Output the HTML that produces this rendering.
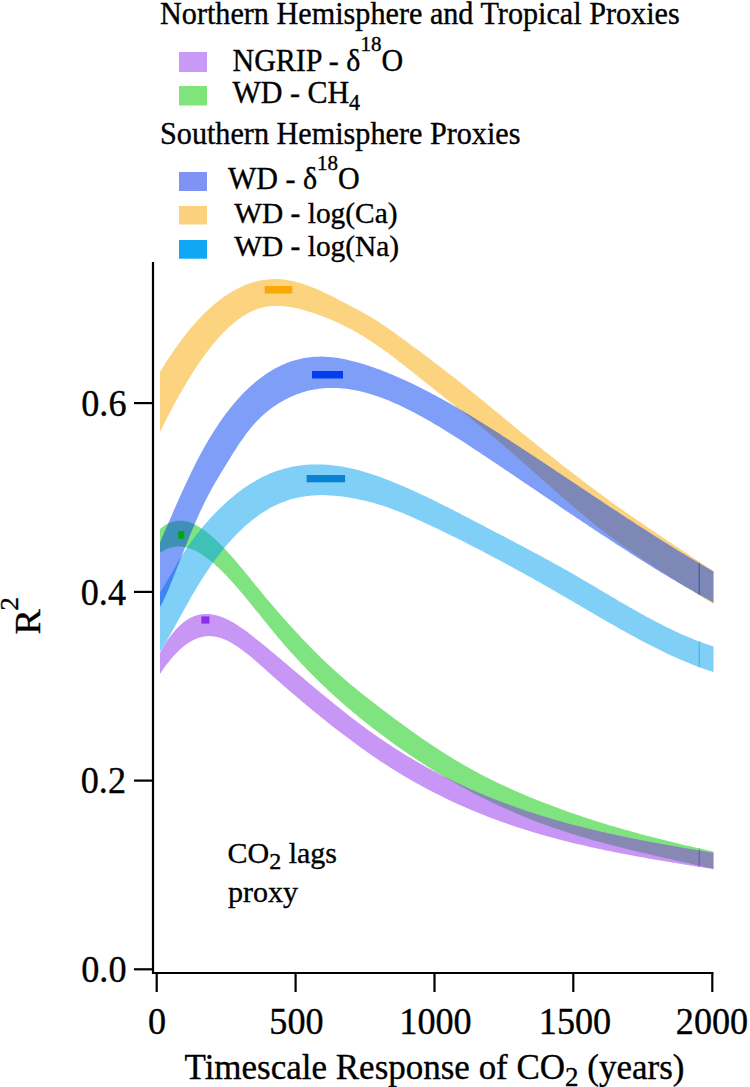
<!DOCTYPE html>
<html><head><meta charset="utf-8"><style>
html,body{margin:0;padding:0;background:#fff;width:750px;height:1087px;overflow:hidden;position:relative;font-family:"Liberation Serif",serif;}
</style></head><body>
<svg width="750" height="1087" viewBox="0 0 750 1087" style="position:absolute;left:0;top:0">
<rect width="750" height="1087" fill="#fff"/>
<path d="M160.0,372.0 L162.0,368.7 L164.0,365.5 L166.0,362.3 L168.0,359.2 L170.0,356.2 L172.0,353.2 L174.0,350.3 L176.0,347.4 L178.0,344.6 L180.0,341.9 L182.0,339.2 L184.0,336.6 L186.0,334.0 L188.0,331.5 L190.0,329.1 L192.0,326.7 L194.0,324.4 L196.0,322.2 L198.0,320.0 L200.0,317.9 L202.0,315.8 L204.0,313.8 L206.0,311.8 L208.0,309.9 L210.0,308.1 L212.0,306.3 L214.0,304.6 L216.0,302.9 L218.0,301.3 L220.0,299.7 L222.0,298.2 L224.0,296.8 L226.0,295.4 L228.0,294.1 L230.0,292.9 L232.0,291.6 L234.0,290.5 L236.0,289.4 L238.0,288.4 L240.0,287.4 L242.0,286.5 L244.0,285.6 L246.0,284.8 L248.0,284.0 L250.0,283.3 L252.0,282.7 L254.0,282.1 L256.0,281.5 L258.0,281.0 L260.0,280.6 L262.0,280.2 L264.0,279.9 L266.0,279.7 L268.0,279.4 L270.0,279.3 L272.0,279.2 L274.0,279.1 L276.0,279.1 L278.0,279.2 L280.0,279.3 L282.0,279.4 L284.0,279.6 L286.0,279.9 L288.0,280.2 L290.0,280.6 L292.0,281.0 L294.0,281.4 L296.0,281.9 L298.0,282.5 L300.0,283.0 L302.0,283.6 L304.0,284.3 L306.0,285.0 L308.0,285.7 L310.0,286.4 L312.0,287.2 L314.0,288.0 L316.0,288.8 L318.0,289.7 L320.0,290.6 L322.0,291.5 L324.0,292.4 L326.0,293.4 L328.0,294.3 L330.0,295.3 L332.0,296.3 L334.0,297.3 L336.0,298.3 L338.0,299.4 L340.0,300.4 L342.0,301.4 L344.0,302.5 L346.0,303.5 L348.0,304.6 L350.0,305.7 L352.0,306.7 L354.0,307.8 L356.0,308.8 L358.0,309.9 L360.0,311.0 L362.0,312.1 L364.0,313.2 L366.0,314.3 L368.0,315.5 L370.0,316.6 L372.0,317.8 L374.0,319.0 L376.0,320.3 L378.0,321.6 L380.0,322.8 L382.0,324.2 L384.0,325.5 L386.0,326.9 L388.0,328.3 L390.0,329.7 L392.0,331.1 L394.0,332.5 L396.0,333.9 L398.0,335.4 L400.0,336.9 L402.0,338.3 L404.0,339.8 L406.0,341.3 L408.0,342.7 L410.0,344.2 L412.0,345.7 L414.0,347.2 L416.0,348.7 L418.0,350.1 L420.0,351.6 L422.0,353.1 L424.0,354.6 L426.0,356.1 L428.0,357.6 L430.0,359.1 L432.0,360.7 L434.0,362.2 L436.0,363.7 L438.0,365.2 L440.0,366.7 L442.0,368.3 L444.0,369.8 L446.0,371.4 L448.0,372.9 L450.0,374.5 L452.0,376.0 L454.0,377.6 L456.0,379.1 L458.0,380.7 L460.0,382.3 L462.0,383.9 L464.0,385.5 L466.0,387.1 L468.0,388.7 L470.0,390.3 L472.0,391.9 L474.0,393.5 L476.0,395.1 L478.0,396.7 L480.0,398.4 L482.0,400.0 L484.0,401.6 L486.0,403.3 L488.0,404.9 L490.0,406.6 L492.0,408.2 L494.0,409.9 L496.0,411.5 L498.0,413.2 L500.0,414.8 L502.0,416.5 L504.0,418.1 L506.0,419.8 L508.0,421.4 L510.0,423.0 L512.0,424.7 L514.0,426.3 L516.0,428.0 L518.0,429.6 L520.0,431.3 L522.0,432.9 L524.0,434.5 L526.0,436.2 L528.0,437.8 L530.0,439.4 L532.0,441.0 L534.0,442.6 L536.0,444.2 L538.0,445.9 L540.0,447.5 L542.0,449.1 L544.0,450.7 L546.0,452.3 L548.0,453.8 L550.0,455.4 L552.0,457.0 L554.0,458.6 L556.0,460.2 L558.0,461.7 L560.0,463.3 L562.0,464.9 L564.0,466.4 L566.0,468.0 L568.0,469.5 L570.0,471.1 L572.0,472.6 L574.0,474.2 L576.0,475.7 L578.0,477.2 L580.0,478.7 L582.0,480.3 L584.0,481.8 L586.0,483.3 L588.0,484.8 L590.0,486.3 L592.0,487.8 L594.0,489.3 L596.0,490.8 L598.0,492.2 L600.0,493.7 L602.0,495.2 L604.0,496.6 L606.0,498.1 L608.0,499.6 L610.0,501.0 L612.0,502.4 L614.0,503.9 L616.0,505.3 L618.0,506.7 L620.0,508.2 L622.0,509.6 L624.0,511.0 L626.0,512.4 L628.0,513.8 L630.0,515.2 L632.0,516.6 L634.0,518.0 L636.0,519.3 L638.0,520.7 L640.0,522.1 L642.0,523.5 L644.0,524.8 L646.0,526.2 L648.0,527.5 L650.0,528.9 L652.0,530.2 L654.0,531.6 L656.0,532.9 L658.0,534.3 L660.0,535.6 L662.0,536.9 L664.0,538.3 L666.0,539.6 L668.0,540.9 L670.0,542.3 L672.0,543.6 L674.0,544.9 L676.0,546.3 L678.0,547.6 L680.0,548.9 L682.0,550.2 L684.0,551.6 L686.0,552.9 L688.0,554.2 L690.0,555.5 L692.0,556.9 L694.0,558.2 L696.0,559.5 L698.0,560.8 L700.0,562.2 L702.0,563.5 L704.0,564.8 L706.0,566.2 L708.0,567.5 L710.0,568.8 L712.0,570.2 L713.5,571.2 L713.5,604.0 L712.0,603.0 L710.0,601.8 L708.0,600.5 L706.0,599.3 L704.0,598.0 L702.0,596.8 L700.0,595.5 L698.0,594.3 L696.0,593.1 L694.0,591.8 L692.0,590.6 L690.0,589.3 L688.0,588.1 L686.0,586.9 L684.0,585.6 L682.0,584.4 L680.0,583.1 L678.0,581.9 L676.0,580.7 L674.0,579.4 L672.0,578.2 L670.0,576.9 L668.0,575.6 L666.0,574.4 L664.0,573.1 L662.0,571.8 L660.0,570.6 L658.0,569.3 L656.0,568.0 L654.0,566.7 L652.0,565.4 L650.0,564.1 L648.0,562.8 L646.0,561.5 L644.0,560.2 L642.0,558.9 L640.0,557.5 L638.0,556.2 L636.0,554.8 L634.0,553.5 L632.0,552.1 L630.0,550.7 L628.0,549.3 L626.0,547.9 L624.0,546.5 L622.0,545.1 L620.0,543.7 L618.0,542.2 L616.0,540.8 L614.0,539.3 L612.0,537.8 L610.0,536.3 L608.0,534.8 L606.0,533.3 L604.0,531.8 L602.0,530.2 L600.0,528.7 L598.0,527.1 L596.0,525.5 L594.0,523.9 L592.0,522.3 L590.0,520.7 L588.0,519.0 L586.0,517.4 L584.0,515.7 L582.0,514.1 L580.0,512.4 L578.0,510.7 L576.0,509.0 L574.0,507.3 L572.0,505.6 L570.0,503.9 L568.0,502.1 L566.0,500.4 L564.0,498.7 L562.0,496.9 L560.0,495.2 L558.0,493.4 L556.0,491.6 L554.0,489.9 L552.0,488.1 L550.0,486.3 L548.0,484.5 L546.0,482.8 L544.0,481.0 L542.0,479.2 L540.0,477.4 L538.0,475.6 L536.0,473.9 L534.0,472.1 L532.0,470.3 L530.0,468.5 L528.0,466.8 L526.0,465.0 L524.0,463.2 L522.0,461.5 L520.0,459.7 L518.0,457.9 L516.0,456.2 L514.0,454.5 L512.0,452.7 L510.0,451.0 L508.0,449.3 L506.0,447.5 L504.0,445.8 L502.0,444.1 L500.0,442.4 L498.0,440.8 L496.0,439.1 L494.0,437.4 L492.0,435.7 L490.0,434.1 L488.0,432.4 L486.0,430.8 L484.0,429.2 L482.0,427.5 L480.0,425.9 L478.0,424.3 L476.0,422.7 L474.0,421.1 L472.0,419.4 L470.0,417.8 L468.0,416.2 L466.0,414.6 L464.0,413.0 L462.0,411.4 L460.0,409.9 L458.0,408.3 L456.0,406.7 L454.0,405.1 L452.0,403.5 L450.0,401.9 L448.0,400.3 L446.0,398.7 L444.0,397.2 L442.0,395.6 L440.0,394.0 L438.0,392.4 L436.0,390.8 L434.0,389.2 L432.0,387.6 L430.0,386.0 L428.0,384.4 L426.0,382.8 L424.0,381.2 L422.0,379.6 L420.0,378.0 L418.0,376.4 L416.0,374.8 L414.0,373.2 L412.0,371.6 L410.0,370.0 L408.0,368.4 L406.0,366.9 L404.0,365.3 L402.0,363.7 L400.0,362.2 L398.0,360.7 L396.0,359.1 L394.0,357.6 L392.0,356.1 L390.0,354.6 L388.0,353.1 L386.0,351.7 L384.0,350.2 L382.0,348.8 L380.0,347.4 L378.0,346.0 L376.0,344.6 L374.0,343.2 L372.0,341.9 L370.0,340.6 L368.0,339.3 L366.0,338.0 L364.0,336.8 L362.0,335.6 L360.0,334.4 L358.0,333.2 L356.0,332.1 L354.0,330.9 L352.0,329.8 L350.0,328.8 L348.0,327.7 L346.0,326.7 L344.0,325.7 L342.0,324.7 L340.0,323.7 L338.0,322.8 L336.0,321.9 L334.0,321.0 L332.0,320.1 L330.0,319.3 L328.0,318.5 L326.0,317.7 L324.0,316.9 L322.0,316.1 L320.0,315.4 L318.0,314.7 L316.0,314.0 L314.0,313.3 L312.0,312.6 L310.0,312.0 L308.0,311.4 L306.0,310.8 L304.0,310.2 L302.0,309.7 L300.0,309.1 L298.0,308.6 L296.0,308.2 L294.0,307.7 L292.0,307.3 L290.0,307.0 L288.0,306.7 L286.0,306.4 L284.0,306.2 L282.0,306.0 L280.0,305.9 L278.0,305.9 L276.0,305.9 L274.0,305.9 L272.0,306.0 L270.0,306.2 L268.0,306.5 L266.0,306.8 L264.0,307.2 L262.0,307.6 L260.0,308.2 L258.0,308.8 L256.0,309.5 L254.0,310.3 L252.0,311.2 L250.0,312.1 L248.0,313.2 L246.0,314.3 L244.0,315.5 L242.0,316.8 L240.0,318.2 L238.0,319.6 L236.0,321.2 L234.0,322.8 L232.0,324.5 L230.0,326.2 L228.0,328.1 L226.0,330.0 L224.0,332.0 L222.0,334.1 L220.0,336.2 L218.0,338.5 L216.0,340.7 L214.0,343.1 L212.0,345.6 L210.0,348.1 L208.0,350.7 L206.0,353.3 L204.0,356.0 L202.0,358.8 L200.0,361.7 L198.0,364.6 L196.0,367.6 L194.0,370.7 L192.0,373.8 L190.0,377.0 L188.0,380.2 L186.0,383.5 L184.0,386.9 L182.0,390.4 L180.0,393.9 L178.0,397.4 L176.0,401.0 L174.0,404.7 L172.0,408.5 L170.0,412.2 L168.0,416.1 L166.0,420.0 L164.0,424.0 L162.0,428.0 L160.0,432.1 Z" fill="rgb(250,168,0)" fill-opacity="0.5"/><rect x="698.6" y="561.6" width="1.3" height="33.4" fill="rgb(250,168,0)" fill-opacity="0.5"/><path d="M160.0,529.0 L162.0,527.4 L164.0,525.9 L166.0,524.6 L168.0,523.6 L170.0,522.7 L172.0,521.9 L174.0,521.4 L176.0,521.0 L178.0,520.8 L180.0,520.7 L182.0,520.8 L184.0,521.0 L186.0,521.4 L188.0,521.8 L190.0,522.5 L192.0,523.2 L194.0,524.1 L196.0,525.1 L198.0,526.2 L200.0,527.4 L202.0,528.7 L204.0,530.1 L206.0,531.5 L208.0,533.1 L210.0,534.7 L212.0,536.5 L214.0,538.3 L216.0,540.1 L218.0,542.0 L220.0,544.0 L222.0,546.0 L224.0,548.1 L226.0,550.2 L228.0,552.4 L230.0,554.6 L232.0,556.9 L234.0,559.1 L236.0,561.5 L238.0,563.8 L240.0,566.2 L242.0,568.6 L244.0,571.0 L246.0,573.4 L248.0,575.8 L250.0,578.3 L252.0,580.7 L254.0,583.2 L256.0,585.7 L258.0,588.1 L260.0,590.6 L262.0,593.0 L264.0,595.4 L266.0,597.9 L268.0,600.3 L270.0,602.6 L272.0,605.0 L274.0,607.3 L276.0,609.6 L278.0,611.9 L280.0,614.2 L282.0,616.5 L284.0,618.7 L286.0,621.0 L288.0,623.2 L290.0,625.4 L292.0,627.6 L294.0,629.8 L296.0,631.9 L298.0,634.1 L300.0,636.2 L302.0,638.4 L304.0,640.5 L306.0,642.6 L308.0,644.6 L310.0,646.7 L312.0,648.7 L314.0,650.8 L316.0,652.8 L318.0,654.7 L320.0,656.7 L322.0,658.7 L324.0,660.6 L326.0,662.5 L328.0,664.4 L330.0,666.3 L332.0,668.1 L334.0,669.9 L336.0,671.7 L338.0,673.5 L340.0,675.3 L342.0,677.0 L344.0,678.8 L346.0,680.5 L348.0,682.2 L350.0,683.9 L352.0,685.5 L354.0,687.2 L356.0,688.8 L358.0,690.4 L360.0,692.1 L362.0,693.7 L364.0,695.3 L366.0,696.8 L368.0,698.4 L370.0,700.0 L372.0,701.5 L374.0,703.1 L376.0,704.6 L378.0,706.2 L380.0,707.7 L382.0,709.2 L384.0,710.7 L386.0,712.2 L388.0,713.7 L390.0,715.3 L392.0,716.8 L394.0,718.2 L396.0,719.7 L398.0,721.2 L400.0,722.7 L402.0,724.1 L404.0,725.6 L406.0,727.1 L408.0,728.5 L410.0,729.9 L412.0,731.4 L414.0,732.8 L416.0,734.2 L418.0,735.6 L420.0,737.0 L422.0,738.4 L424.0,739.8 L426.0,741.1 L428.0,742.5 L430.0,743.8 L432.0,745.2 L434.0,746.5 L436.0,747.8 L438.0,749.1 L440.0,750.4 L442.0,751.7 L444.0,753.0 L446.0,754.2 L448.0,755.5 L450.0,756.7 L452.0,758.0 L454.0,759.2 L456.0,760.4 L458.0,761.6 L460.0,762.8 L462.0,763.9 L464.0,765.1 L466.0,766.2 L468.0,767.3 L470.0,768.5 L472.0,769.6 L474.0,770.7 L476.0,771.7 L478.0,772.8 L480.0,773.9 L482.0,774.9 L484.0,776.0 L486.0,777.0 L488.0,778.0 L490.0,779.0 L492.0,780.0 L494.0,781.0 L496.0,782.0 L498.0,782.9 L500.0,783.9 L502.0,784.8 L504.0,785.8 L506.0,786.7 L508.0,787.6 L510.0,788.5 L512.0,789.4 L514.0,790.3 L516.0,791.2 L518.0,792.1 L520.0,792.9 L522.0,793.8 L524.0,794.6 L526.0,795.5 L528.0,796.3 L530.0,797.2 L532.0,798.0 L534.0,798.8 L536.0,799.6 L538.0,800.4 L540.0,801.2 L542.0,802.0 L544.0,802.8 L546.0,803.5 L548.0,804.3 L550.0,805.1 L552.0,805.8 L554.0,806.6 L556.0,807.3 L558.0,808.1 L560.0,808.8 L562.0,809.5 L564.0,810.2 L566.0,811.0 L568.0,811.7 L570.0,812.4 L572.0,813.1 L574.0,813.8 L576.0,814.5 L578.0,815.1 L580.0,815.8 L582.0,816.5 L584.0,817.2 L586.0,817.8 L588.0,818.5 L590.0,819.1 L592.0,819.8 L594.0,820.4 L596.0,821.0 L598.0,821.7 L600.0,822.3 L602.0,822.9 L604.0,823.5 L606.0,824.2 L608.0,824.8 L610.0,825.4 L612.0,826.0 L614.0,826.6 L616.0,827.1 L618.0,827.7 L620.0,828.3 L622.0,828.9 L624.0,829.5 L626.0,830.0 L628.0,830.6 L630.0,831.1 L632.0,831.7 L634.0,832.2 L636.0,832.8 L638.0,833.3 L640.0,833.9 L642.0,834.4 L644.0,834.9 L646.0,835.5 L648.0,836.0 L650.0,836.5 L652.0,837.0 L654.0,837.6 L656.0,838.1 L658.0,838.6 L660.0,839.1 L662.0,839.6 L664.0,840.1 L666.0,840.6 L668.0,841.1 L670.0,841.6 L672.0,842.0 L674.0,842.5 L676.0,843.0 L678.0,843.5 L680.0,844.0 L682.0,844.4 L684.0,844.9 L686.0,845.4 L688.0,845.8 L690.0,846.3 L692.0,846.8 L694.0,847.2 L696.0,847.7 L698.0,848.1 L700.0,848.6 L702.0,849.0 L704.0,849.5 L706.0,849.9 L708.0,850.4 L710.0,850.8 L712.0,851.2 L713.5,851.6 L713.5,868.9 L712.0,868.6 L710.0,868.1 L708.0,867.7 L706.0,867.2 L704.0,866.8 L702.0,866.3 L700.0,865.8 L698.0,865.4 L696.0,864.9 L694.0,864.5 L692.0,864.0 L690.0,863.6 L688.0,863.1 L686.0,862.7 L684.0,862.2 L682.0,861.8 L680.0,861.4 L678.0,860.9 L676.0,860.5 L674.0,860.0 L672.0,859.6 L670.0,859.1 L668.0,858.7 L666.0,858.2 L664.0,857.8 L662.0,857.3 L660.0,856.9 L658.0,856.4 L656.0,855.9 L654.0,855.5 L652.0,855.0 L650.0,854.6 L648.0,854.1 L646.0,853.6 L644.0,853.2 L642.0,852.7 L640.0,852.2 L638.0,851.7 L636.0,851.3 L634.0,850.8 L632.0,850.3 L630.0,849.8 L628.0,849.3 L626.0,848.8 L624.0,848.3 L622.0,847.8 L620.0,847.3 L618.0,846.8 L616.0,846.3 L614.0,845.8 L612.0,845.3 L610.0,844.8 L608.0,844.3 L606.0,843.7 L604.0,843.2 L602.0,842.6 L600.0,842.1 L598.0,841.6 L596.0,841.0 L594.0,840.4 L592.0,839.9 L590.0,839.3 L588.0,838.7 L586.0,838.1 L584.0,837.6 L582.0,837.0 L580.0,836.4 L578.0,835.8 L576.0,835.1 L574.0,834.5 L572.0,833.9 L570.0,833.3 L568.0,832.6 L566.0,832.0 L564.0,831.3 L562.0,830.7 L560.0,830.0 L558.0,829.3 L556.0,828.7 L554.0,828.0 L552.0,827.3 L550.0,826.6 L548.0,825.9 L546.0,825.1 L544.0,824.4 L542.0,823.7 L540.0,822.9 L538.0,822.2 L536.0,821.4 L534.0,820.6 L532.0,819.9 L530.0,819.1 L528.0,818.3 L526.0,817.5 L524.0,816.7 L522.0,815.8 L520.0,815.0 L518.0,814.2 L516.0,813.3 L514.0,812.5 L512.0,811.6 L510.0,810.7 L508.0,809.8 L506.0,808.9 L504.0,808.0 L502.0,807.1 L500.0,806.2 L498.0,805.3 L496.0,804.3 L494.0,803.4 L492.0,802.4 L490.0,801.5 L488.0,800.5 L486.0,799.5 L484.0,798.5 L482.0,797.5 L480.0,796.5 L478.0,795.5 L476.0,794.5 L474.0,793.4 L472.0,792.4 L470.0,791.3 L468.0,790.2 L466.0,789.2 L464.0,788.1 L462.0,787.0 L460.0,785.9 L458.0,784.8 L456.0,783.6 L454.0,782.5 L452.0,781.4 L450.0,780.2 L448.0,779.0 L446.0,777.9 L444.0,776.7 L442.0,775.5 L440.0,774.3 L438.0,773.1 L436.0,771.9 L434.0,770.6 L432.0,769.4 L430.0,768.1 L428.0,766.9 L426.0,765.6 L424.0,764.3 L422.0,763.0 L420.0,761.7 L418.0,760.4 L416.0,759.1 L414.0,757.8 L412.0,756.4 L410.0,755.1 L408.0,753.7 L406.0,752.3 L404.0,751.0 L402.0,749.6 L400.0,748.2 L398.0,746.8 L396.0,745.3 L394.0,743.9 L392.0,742.5 L390.0,741.0 L388.0,739.5 L386.0,738.1 L384.0,736.6 L382.0,735.1 L380.0,733.6 L378.0,732.1 L376.0,730.5 L374.0,729.0 L372.0,727.4 L370.0,725.9 L368.0,724.3 L366.0,722.7 L364.0,721.1 L362.0,719.5 L360.0,717.9 L358.0,716.3 L356.0,714.6 L354.0,713.0 L352.0,711.3 L350.0,709.6 L348.0,707.9 L346.0,706.2 L344.0,704.4 L342.0,702.7 L340.0,700.9 L338.0,699.1 L336.0,697.4 L334.0,695.5 L332.0,693.7 L330.0,691.9 L328.0,690.0 L326.0,688.1 L324.0,686.2 L322.0,684.3 L320.0,682.4 L318.0,680.5 L316.0,678.5 L314.0,676.5 L312.0,674.5 L310.0,672.5 L308.0,670.4 L306.0,668.4 L304.0,666.3 L302.0,664.2 L300.0,662.1 L298.0,659.9 L296.0,657.8 L294.0,655.6 L292.0,653.4 L290.0,651.2 L288.0,648.9 L286.0,646.7 L284.0,644.4 L282.0,642.1 L280.0,639.7 L278.0,637.4 L276.0,635.0 L274.0,632.6 L272.0,630.1 L270.0,627.7 L268.0,625.2 L266.0,622.8 L264.0,620.3 L262.0,617.8 L260.0,615.3 L258.0,612.8 L256.0,610.4 L254.0,607.9 L252.0,605.4 L250.0,602.9 L248.0,600.5 L246.0,598.1 L244.0,595.6 L242.0,593.3 L240.0,590.9 L238.0,588.6 L236.0,586.2 L234.0,584.0 L232.0,581.7 L230.0,579.5 L228.0,577.4 L226.0,575.3 L224.0,573.2 L222.0,571.2 L220.0,569.2 L218.0,567.3 L216.0,565.5 L214.0,563.7 L212.0,562.0 L210.0,560.4 L208.0,558.8 L206.0,557.3 L204.0,555.9 L202.0,554.5 L200.0,553.3 L198.0,552.1 L196.0,551.1 L194.0,550.1 L192.0,549.3 L190.0,548.5 L188.0,547.9 L186.0,547.4 L184.0,547.0 L182.0,546.7 L180.0,546.6 L178.0,546.5 L176.0,546.7 L174.0,546.9 L172.0,547.3 L170.0,547.8 L168.0,548.5 L166.0,549.4 L164.0,550.4 L162.0,551.5 L160.0,552.8 Z" fill="rgb(0,200,0)" fill-opacity="0.5"/><rect x="698.6" y="848.4" width="1.3" height="17.3" fill="rgb(0,200,0)" fill-opacity="0.5"/><path d="M160.0,652.9 L162.0,649.3 L164.0,645.8 L166.0,642.6 L168.0,639.6 L170.0,636.8 L172.0,634.2 L174.0,631.7 L176.0,629.4 L178.0,627.3 L180.0,625.4 L182.0,623.6 L184.0,622.0 L186.0,620.6 L188.0,619.3 L190.0,618.1 L192.0,617.1 L194.0,616.3 L196.0,615.6 L198.0,615.0 L200.0,614.5 L202.0,614.2 L204.0,614.0 L206.0,613.9 L208.0,614.0 L210.0,614.1 L212.0,614.4 L214.0,614.7 L216.0,615.2 L218.0,615.7 L220.0,616.4 L222.0,617.1 L224.0,617.9 L226.0,618.8 L228.0,619.8 L230.0,620.8 L232.0,621.9 L234.0,623.1 L236.0,624.3 L238.0,625.6 L240.0,626.9 L242.0,628.3 L244.0,629.7 L246.0,631.1 L248.0,632.6 L250.0,634.1 L252.0,635.7 L254.0,637.3 L256.0,638.9 L258.0,640.5 L260.0,642.1 L262.0,643.7 L264.0,645.3 L266.0,647.0 L268.0,648.6 L270.0,650.3 L272.0,651.9 L274.0,653.6 L276.0,655.3 L278.0,656.9 L280.0,658.6 L282.0,660.3 L284.0,662.0 L286.0,663.6 L288.0,665.3 L290.0,667.0 L292.0,668.7 L294.0,670.4 L296.0,672.1 L298.0,673.8 L300.0,675.4 L302.0,677.1 L304.0,678.8 L306.0,680.5 L308.0,682.2 L310.0,683.9 L312.0,685.5 L314.0,687.2 L316.0,688.9 L318.0,690.6 L320.0,692.2 L322.0,693.9 L324.0,695.5 L326.0,697.2 L328.0,698.8 L330.0,700.5 L332.0,702.1 L334.0,703.7 L336.0,705.3 L338.0,706.9 L340.0,708.6 L342.0,710.1 L344.0,711.7 L346.0,713.3 L348.0,714.9 L350.0,716.4 L352.0,718.0 L354.0,719.5 L356.0,721.0 L358.0,722.6 L360.0,724.1 L362.0,725.5 L364.0,727.0 L366.0,728.5 L368.0,729.9 L370.0,731.4 L372.0,732.8 L374.0,734.2 L376.0,735.6 L378.0,737.0 L380.0,738.4 L382.0,739.8 L384.0,741.1 L386.0,742.5 L388.0,743.8 L390.0,745.1 L392.0,746.4 L394.0,747.7 L396.0,749.0 L398.0,750.3 L400.0,751.5 L402.0,752.8 L404.0,754.0 L406.0,755.2 L408.0,756.4 L410.0,757.6 L412.0,758.8 L414.0,760.0 L416.0,761.2 L418.0,762.3 L420.0,763.5 L422.0,764.6 L424.0,765.8 L426.0,766.9 L428.0,768.0 L430.0,769.1 L432.0,770.2 L434.0,771.2 L436.0,772.3 L438.0,773.3 L440.0,774.4 L442.0,775.4 L444.0,776.4 L446.0,777.5 L448.0,778.5 L450.0,779.5 L452.0,780.4 L454.0,781.4 L456.0,782.4 L458.0,783.3 L460.0,784.3 L462.0,785.2 L464.0,786.1 L466.0,787.1 L468.0,788.0 L470.0,788.9 L472.0,789.8 L474.0,790.6 L476.0,791.5 L478.0,792.4 L480.0,793.2 L482.0,794.1 L484.0,794.9 L486.0,795.8 L488.0,796.6 L490.0,797.4 L492.0,798.2 L494.0,799.0 L496.0,799.8 L498.0,800.6 L500.0,801.3 L502.0,802.1 L504.0,802.9 L506.0,803.6 L508.0,804.4 L510.0,805.1 L512.0,805.8 L514.0,806.5 L516.0,807.3 L518.0,808.0 L520.0,808.7 L522.0,809.3 L524.0,810.0 L526.0,810.7 L528.0,811.4 L530.0,812.0 L532.0,812.7 L534.0,813.3 L536.0,814.0 L538.0,814.6 L540.0,815.2 L542.0,815.9 L544.0,816.5 L546.0,817.1 L548.0,817.7 L550.0,818.3 L552.0,818.9 L554.0,819.5 L556.0,820.0 L558.0,820.6 L560.0,821.2 L562.0,821.7 L564.0,822.3 L566.0,822.9 L568.0,823.4 L570.0,823.9 L572.0,824.5 L574.0,825.0 L576.0,825.5 L578.0,826.0 L580.0,826.5 L582.0,827.1 L584.0,827.6 L586.0,828.1 L588.0,828.5 L590.0,829.0 L592.0,829.5 L594.0,830.0 L596.0,830.5 L598.0,830.9 L600.0,831.4 L602.0,831.9 L604.0,832.3 L606.0,832.8 L608.0,833.2 L610.0,833.7 L612.0,834.1 L614.0,834.5 L616.0,835.0 L618.0,835.4 L620.0,835.8 L622.0,836.2 L624.0,836.7 L626.0,837.1 L628.0,837.5 L630.0,837.9 L632.0,838.3 L634.0,838.7 L636.0,839.1 L638.0,839.5 L640.0,839.9 L642.0,840.3 L644.0,840.7 L646.0,841.0 L648.0,841.4 L650.0,841.8 L652.0,842.2 L654.0,842.5 L656.0,842.9 L658.0,843.3 L660.0,843.6 L662.0,844.0 L664.0,844.4 L666.0,844.7 L668.0,845.1 L670.0,845.4 L672.0,845.8 L674.0,846.1 L676.0,846.5 L678.0,846.8 L680.0,847.2 L682.0,847.5 L684.0,847.9 L686.0,848.2 L688.0,848.5 L690.0,848.9 L692.0,849.2 L694.0,849.6 L696.0,849.9 L698.0,850.2 L700.0,850.6 L702.0,850.9 L704.0,851.2 L706.0,851.6 L708.0,851.9 L710.0,852.2 L712.0,852.5 L713.5,852.8 L713.5,869.2 L712.0,868.9 L710.0,868.6 L708.0,868.3 L706.0,868.0 L704.0,867.7 L702.0,867.3 L700.0,867.0 L698.0,866.7 L696.0,866.4 L694.0,866.0 L692.0,865.7 L690.0,865.4 L688.0,865.1 L686.0,864.7 L684.0,864.4 L682.0,864.1 L680.0,863.8 L678.0,863.4 L676.0,863.1 L674.0,862.8 L672.0,862.4 L670.0,862.1 L668.0,861.8 L666.0,861.4 L664.0,861.1 L662.0,860.8 L660.0,860.4 L658.0,860.1 L656.0,859.7 L654.0,859.4 L652.0,859.1 L650.0,858.7 L648.0,858.4 L646.0,858.0 L644.0,857.6 L642.0,857.3 L640.0,856.9 L638.0,856.6 L636.0,856.2 L634.0,855.8 L632.0,855.5 L630.0,855.1 L628.0,854.7 L626.0,854.3 L624.0,853.9 L622.0,853.6 L620.0,853.2 L618.0,852.8 L616.0,852.4 L614.0,852.0 L612.0,851.6 L610.0,851.2 L608.0,850.8 L606.0,850.4 L604.0,849.9 L602.0,849.5 L600.0,849.1 L598.0,848.7 L596.0,848.2 L594.0,847.8 L592.0,847.4 L590.0,846.9 L588.0,846.5 L586.0,846.0 L584.0,845.6 L582.0,845.1 L580.0,844.6 L578.0,844.2 L576.0,843.7 L574.0,843.2 L572.0,842.7 L570.0,842.2 L568.0,841.7 L566.0,841.2 L564.0,840.7 L562.0,840.2 L560.0,839.7 L558.0,839.2 L556.0,838.6 L554.0,838.1 L552.0,837.5 L550.0,837.0 L548.0,836.4 L546.0,835.9 L544.0,835.3 L542.0,834.8 L540.0,834.2 L538.0,833.6 L536.0,833.0 L534.0,832.4 L532.0,831.8 L530.0,831.2 L528.0,830.6 L526.0,829.9 L524.0,829.3 L522.0,828.7 L520.0,828.0 L518.0,827.4 L516.0,826.7 L514.0,826.1 L512.0,825.4 L510.0,824.7 L508.0,824.0 L506.0,823.3 L504.0,822.6 L502.0,821.9 L500.0,821.2 L498.0,820.5 L496.0,819.7 L494.0,819.0 L492.0,818.2 L490.0,817.5 L488.0,816.7 L486.0,815.9 L484.0,815.1 L482.0,814.4 L480.0,813.6 L478.0,812.7 L476.0,811.9 L474.0,811.1 L472.0,810.3 L470.0,809.4 L468.0,808.6 L466.0,807.7 L464.0,806.8 L462.0,805.9 L460.0,805.1 L458.0,804.2 L456.0,803.2 L454.0,802.3 L452.0,801.4 L450.0,800.5 L448.0,799.5 L446.0,798.5 L444.0,797.6 L442.0,796.6 L440.0,795.6 L438.0,794.6 L436.0,793.6 L434.0,792.6 L432.0,791.6 L430.0,790.5 L428.0,789.5 L426.0,788.4 L424.0,787.3 L422.0,786.2 L420.0,785.1 L418.0,784.0 L416.0,782.9 L414.0,781.8 L412.0,780.7 L410.0,779.5 L408.0,778.3 L406.0,777.2 L404.0,776.0 L402.0,774.8 L400.0,773.6 L398.0,772.4 L396.0,771.1 L394.0,769.9 L392.0,768.6 L390.0,767.4 L388.0,766.1 L386.0,764.8 L384.0,763.5 L382.0,762.2 L380.0,760.9 L378.0,759.5 L376.0,758.2 L374.0,756.8 L372.0,755.4 L370.0,754.0 L368.0,752.7 L366.0,751.3 L364.0,749.8 L362.0,748.4 L360.0,747.0 L358.0,745.5 L356.0,744.1 L354.0,742.6 L352.0,741.1 L350.0,739.6 L348.0,738.1 L346.0,736.6 L344.0,735.1 L342.0,733.6 L340.0,732.1 L338.0,730.5 L336.0,729.0 L334.0,727.4 L332.0,725.9 L330.0,724.3 L328.0,722.7 L326.0,721.1 L324.0,719.5 L322.0,717.9 L320.0,716.3 L318.0,714.6 L316.0,713.0 L314.0,711.4 L312.0,709.7 L310.0,708.1 L308.0,706.4 L306.0,704.7 L304.0,703.1 L302.0,701.4 L300.0,699.7 L298.0,698.0 L296.0,696.3 L294.0,694.6 L292.0,692.9 L290.0,691.2 L288.0,689.4 L286.0,687.7 L284.0,686.0 L282.0,684.2 L280.0,682.5 L278.0,680.7 L276.0,679.0 L274.0,677.2 L272.0,675.4 L270.0,673.7 L268.0,671.9 L266.0,670.1 L264.0,668.3 L262.0,666.5 L260.0,664.8 L258.0,663.0 L256.0,661.2 L254.0,659.5 L252.0,657.8 L250.0,656.1 L248.0,654.5 L246.0,652.9 L244.0,651.4 L242.0,649.9 L240.0,648.4 L238.0,647.0 L236.0,645.7 L234.0,644.4 L232.0,643.2 L230.0,642.1 L228.0,641.1 L226.0,640.1 L224.0,639.3 L222.0,638.5 L220.0,637.8 L218.0,637.2 L216.0,636.8 L214.0,636.4 L212.0,636.2 L210.0,636.1 L208.0,636.1 L206.0,636.3 L204.0,636.5 L202.0,636.9 L200.0,637.5 L198.0,638.1 L196.0,638.9 L194.0,639.8 L192.0,640.8 L190.0,642.0 L188.0,643.2 L186.0,644.6 L184.0,646.1 L182.0,647.8 L180.0,649.6 L178.0,651.4 L176.0,653.5 L174.0,655.6 L172.0,657.8 L170.0,660.2 L168.0,662.7 L166.0,665.3 L164.0,668.1 L162.0,670.9 L160.0,673.9 Z" fill="rgb(145,45,235)" fill-opacity="0.5"/><rect x="698.6" y="850.4" width="1.3" height="16.5" fill="rgb(145,45,235)" fill-opacity="0.5"/><path d="M160.0,592.3 L162.0,589.2 L164.0,586.0 L166.0,582.6 L168.0,579.2 L170.0,575.8 L172.0,572.4 L174.0,568.9 L176.0,565.5 L178.0,562.1 L180.0,558.8 L182.0,555.5 L184.0,552.3 L186.0,549.2 L188.0,546.3 L190.0,543.4 L192.0,540.6 L194.0,537.9 L196.0,535.2 L198.0,532.7 L200.0,530.2 L202.0,527.8 L204.0,525.4 L206.0,523.1 L208.0,520.9 L210.0,518.6 L212.0,516.5 L214.0,514.4 L216.0,512.3 L218.0,510.3 L220.0,508.3 L222.0,506.4 L224.0,504.5 L226.0,502.6 L228.0,500.8 L230.0,499.1 L232.0,497.4 L234.0,495.7 L236.0,494.1 L238.0,492.6 L240.0,491.0 L242.0,489.6 L244.0,488.1 L246.0,486.8 L248.0,485.4 L250.0,484.1 L252.0,482.9 L254.0,481.7 L256.0,480.5 L258.0,479.4 L260.0,478.3 L262.0,477.3 L264.0,476.3 L266.0,475.4 L268.0,474.5 L270.0,473.6 L272.0,472.8 L274.0,472.0 L276.0,471.3 L278.0,470.6 L280.0,470.0 L282.0,469.4 L284.0,468.8 L286.0,468.2 L288.0,467.7 L290.0,467.3 L292.0,466.8 L294.0,466.4 L296.0,466.1 L298.0,465.8 L300.0,465.5 L302.0,465.2 L304.0,465.0 L306.0,464.8 L308.0,464.7 L310.0,464.6 L312.0,464.5 L314.0,464.4 L316.0,464.4 L318.0,464.4 L320.0,464.4 L322.0,464.5 L324.0,464.6 L326.0,464.7 L328.0,464.8 L330.0,465.0 L332.0,465.2 L334.0,465.4 L336.0,465.7 L338.0,466.0 L340.0,466.3 L342.0,466.6 L344.0,467.0 L346.0,467.4 L348.0,467.8 L350.0,468.2 L352.0,468.6 L354.0,469.1 L356.0,469.6 L358.0,470.1 L360.0,470.6 L362.0,471.2 L364.0,471.8 L366.0,472.4 L368.0,473.0 L370.0,473.6 L372.0,474.2 L374.0,474.9 L376.0,475.6 L378.0,476.3 L380.0,477.0 L382.0,477.7 L384.0,478.4 L386.0,479.2 L388.0,480.0 L390.0,480.8 L392.0,481.6 L394.0,482.4 L396.0,483.2 L398.0,484.0 L400.0,484.9 L402.0,485.7 L404.0,486.6 L406.0,487.4 L408.0,488.3 L410.0,489.2 L412.0,490.1 L414.0,491.0 L416.0,491.9 L418.0,492.9 L420.0,493.8 L422.0,494.7 L424.0,495.7 L426.0,496.6 L428.0,497.6 L430.0,498.5 L432.0,499.5 L434.0,500.5 L436.0,501.5 L438.0,502.5 L440.0,503.5 L442.0,504.4 L444.0,505.5 L446.0,506.5 L448.0,507.5 L450.0,508.5 L452.0,509.5 L454.0,510.5 L456.0,511.6 L458.0,512.6 L460.0,513.6 L462.0,514.7 L464.0,515.7 L466.0,516.7 L468.0,517.8 L470.0,518.8 L472.0,519.9 L474.0,520.9 L476.0,522.0 L478.0,523.0 L480.0,524.0 L482.0,525.1 L484.0,526.1 L486.0,527.2 L488.0,528.2 L490.0,529.3 L492.0,530.3 L494.0,531.4 L496.0,532.4 L498.0,533.5 L500.0,534.5 L502.0,535.6 L504.0,536.6 L506.0,537.6 L508.0,538.7 L510.0,539.7 L512.0,540.8 L514.0,541.8 L516.0,542.9 L518.0,543.9 L520.0,545.0 L522.0,546.1 L524.0,547.1 L526.0,548.2 L528.0,549.2 L530.0,550.3 L532.0,551.4 L534.0,552.4 L536.0,553.5 L538.0,554.6 L540.0,555.6 L542.0,556.7 L544.0,557.8 L546.0,558.9 L548.0,560.0 L550.0,561.1 L552.0,562.2 L554.0,563.3 L556.0,564.4 L558.0,565.5 L560.0,566.6 L562.0,567.7 L564.0,568.9 L566.0,570.0 L568.0,571.1 L570.0,572.3 L572.0,573.4 L574.0,574.6 L576.0,575.7 L578.0,576.9 L580.0,578.1 L582.0,579.2 L584.0,580.4 L586.0,581.6 L588.0,582.8 L590.0,583.9 L592.0,585.1 L594.0,586.3 L596.0,587.5 L598.0,588.7 L600.0,589.9 L602.0,591.0 L604.0,592.2 L606.0,593.4 L608.0,594.6 L610.0,595.8 L612.0,597.0 L614.0,598.1 L616.0,599.3 L618.0,600.5 L620.0,601.7 L622.0,602.8 L624.0,604.0 L626.0,605.1 L628.0,606.3 L630.0,607.4 L632.0,608.6 L634.0,609.7 L636.0,610.8 L638.0,612.0 L640.0,613.1 L642.0,614.2 L644.0,615.3 L646.0,616.4 L648.0,617.5 L650.0,618.6 L652.0,619.6 L654.0,620.7 L656.0,621.8 L658.0,622.8 L660.0,623.8 L662.0,624.8 L664.0,625.9 L666.0,626.9 L668.0,627.8 L670.0,628.8 L672.0,629.8 L674.0,630.7 L676.0,631.7 L678.0,632.6 L680.0,633.5 L682.0,634.4 L684.0,635.3 L686.0,636.1 L688.0,637.0 L690.0,637.8 L692.0,638.6 L694.0,639.4 L696.0,640.2 L698.0,641.0 L700.0,641.8 L702.0,642.5 L704.0,643.2 L706.0,643.9 L708.0,644.6 L710.0,645.2 L712.0,645.9 L713.5,646.4 L713.5,672.0 L712.0,671.5 L710.0,670.9 L708.0,670.2 L706.0,669.5 L704.0,668.9 L702.0,668.1 L700.0,667.4 L698.0,666.7 L696.0,665.9 L694.0,665.2 L692.0,664.4 L690.0,663.6 L688.0,662.8 L686.0,661.9 L684.0,661.1 L682.0,660.3 L680.0,659.4 L678.0,658.5 L676.0,657.6 L674.0,656.7 L672.0,655.8 L670.0,654.9 L668.0,654.0 L666.0,653.0 L664.0,652.1 L662.0,651.1 L660.0,650.1 L658.0,649.1 L656.0,648.1 L654.0,647.1 L652.0,646.1 L650.0,645.1 L648.0,644.1 L646.0,643.0 L644.0,642.0 L642.0,640.9 L640.0,639.9 L638.0,638.8 L636.0,637.7 L634.0,636.6 L632.0,635.5 L630.0,634.4 L628.0,633.3 L626.0,632.2 L624.0,631.1 L622.0,630.0 L620.0,628.9 L618.0,627.7 L616.0,626.6 L614.0,625.5 L612.0,624.3 L610.0,623.2 L608.0,622.0 L606.0,620.9 L604.0,619.7 L602.0,618.5 L600.0,617.4 L598.0,616.2 L596.0,615.1 L594.0,613.9 L592.0,612.7 L590.0,611.6 L588.0,610.4 L586.0,609.2 L584.0,608.0 L582.0,606.9 L580.0,605.7 L578.0,604.5 L576.0,603.4 L574.0,602.2 L572.0,601.0 L570.0,599.9 L568.0,598.7 L566.0,597.5 L564.0,596.4 L562.0,595.2 L560.0,594.1 L558.0,592.9 L556.0,591.8 L554.0,590.6 L552.0,589.5 L550.0,588.3 L548.0,587.2 L546.0,586.0 L544.0,584.9 L542.0,583.8 L540.0,582.6 L538.0,581.5 L536.0,580.4 L534.0,579.3 L532.0,578.1 L530.0,577.0 L528.0,575.9 L526.0,574.8 L524.0,573.7 L522.0,572.6 L520.0,571.5 L518.0,570.4 L516.0,569.3 L514.0,568.2 L512.0,567.1 L510.0,566.0 L508.0,564.9 L506.0,563.8 L504.0,562.7 L502.0,561.7 L500.0,560.6 L498.0,559.5 L496.0,558.4 L494.0,557.4 L492.0,556.3 L490.0,555.3 L488.0,554.2 L486.0,553.2 L484.0,552.1 L482.0,551.1 L480.0,550.0 L478.0,549.0 L476.0,548.0 L474.0,546.9 L472.0,545.9 L470.0,544.9 L468.0,543.9 L466.0,542.8 L464.0,541.8 L462.0,540.8 L460.0,539.8 L458.0,538.8 L456.0,537.8 L454.0,536.8 L452.0,535.9 L450.0,534.9 L448.0,533.9 L446.0,532.9 L444.0,532.0 L442.0,531.0 L440.0,530.0 L438.0,529.1 L436.0,528.1 L434.0,527.2 L432.0,526.2 L430.0,525.3 L428.0,524.4 L426.0,523.4 L424.0,522.5 L422.0,521.6 L420.0,520.7 L418.0,519.8 L416.0,518.9 L414.0,518.0 L412.0,517.1 L410.0,516.2 L408.0,515.3 L406.0,514.5 L404.0,513.6 L402.0,512.8 L400.0,512.0 L398.0,511.2 L396.0,510.4 L394.0,509.7 L392.0,508.9 L390.0,508.2 L388.0,507.5 L386.0,506.8 L384.0,506.1 L382.0,505.5 L380.0,504.9 L378.0,504.3 L376.0,503.7 L374.0,503.1 L372.0,502.6 L370.0,502.0 L368.0,501.5 L366.0,501.0 L364.0,500.6 L362.0,500.1 L360.0,499.7 L358.0,499.2 L356.0,498.8 L354.0,498.5 L352.0,498.1 L350.0,497.7 L348.0,497.4 L346.0,497.1 L344.0,496.8 L342.0,496.5 L340.0,496.3 L338.0,496.0 L336.0,495.8 L334.0,495.7 L332.0,495.5 L330.0,495.4 L328.0,495.3 L326.0,495.2 L324.0,495.1 L322.0,495.1 L320.0,495.1 L318.0,495.2 L316.0,495.3 L314.0,495.4 L312.0,495.5 L310.0,495.7 L308.0,495.9 L306.0,496.2 L304.0,496.5 L302.0,496.8 L300.0,497.2 L298.0,497.6 L296.0,498.0 L294.0,498.5 L292.0,499.1 L290.0,499.6 L288.0,500.3 L286.0,500.9 L284.0,501.7 L282.0,502.4 L280.0,503.3 L278.0,504.1 L276.0,505.1 L274.0,506.0 L272.0,507.0 L270.0,508.1 L268.0,509.3 L266.0,510.4 L264.0,511.7 L262.0,513.0 L260.0,514.3 L258.0,515.7 L256.0,517.2 L254.0,518.7 L252.0,520.2 L250.0,521.9 L248.0,523.6 L246.0,525.3 L244.0,527.1 L242.0,529.0 L240.0,530.9 L238.0,532.8 L236.0,534.9 L234.0,537.0 L232.0,539.1 L230.0,541.4 L228.0,543.6 L226.0,546.0 L224.0,548.4 L222.0,550.8 L220.0,553.4 L218.0,556.0 L216.0,558.6 L214.0,561.3 L212.0,564.1 L210.0,567.0 L208.0,569.9 L206.0,572.9 L204.0,575.9 L202.0,579.1 L200.0,582.3 L198.0,585.5 L196.0,588.8 L194.0,592.2 L192.0,595.6 L190.0,599.1 L188.0,602.7 L186.0,606.2 L184.0,609.8 L182.0,613.4 L180.0,617.0 L178.0,620.6 L176.0,624.3 L174.0,627.9 L172.0,631.5 L170.0,635.1 L168.0,638.6 L166.0,642.1 L164.0,645.5 L162.0,648.8 L160.0,652.1 Z" fill="rgb(0,160,240)" fill-opacity="0.5"/><rect x="698.6" y="641.5" width="1.3" height="25.7" fill="rgb(0,160,240)" fill-opacity="0.5"/><path d="M160.0,542.4 L162.0,537.8 L164.0,533.1 L166.0,528.5 L168.0,523.9 L170.0,519.3 L172.0,514.7 L174.0,510.1 L176.0,505.6 L178.0,501.1 L180.0,496.6 L182.0,492.2 L184.0,487.8 L186.0,483.5 L188.0,479.2 L190.0,475.0 L192.0,470.8 L194.0,466.8 L196.0,462.8 L198.0,458.9 L200.0,455.1 L202.0,451.4 L204.0,447.8 L206.0,444.2 L208.0,440.8 L210.0,437.4 L212.0,434.2 L214.0,431.0 L216.0,427.9 L218.0,424.9 L220.0,421.9 L222.0,419.1 L224.0,416.3 L226.0,413.6 L228.0,411.0 L230.0,408.4 L232.0,405.9 L234.0,403.5 L236.0,401.2 L238.0,399.0 L240.0,396.8 L242.0,394.6 L244.0,392.6 L246.0,390.6 L248.0,388.7 L250.0,386.8 L252.0,385.0 L254.0,383.3 L256.0,381.6 L258.0,380.0 L260.0,378.4 L262.0,376.9 L264.0,375.5 L266.0,374.1 L268.0,372.8 L270.0,371.5 L272.0,370.3 L274.0,369.1 L276.0,368.0 L278.0,367.0 L280.0,366.0 L282.0,365.0 L284.0,364.2 L286.0,363.3 L288.0,362.5 L290.0,361.8 L292.0,361.1 L294.0,360.5 L296.0,359.9 L298.0,359.4 L300.0,358.9 L302.0,358.5 L304.0,358.1 L306.0,357.8 L308.0,357.5 L310.0,357.2 L312.0,357.0 L314.0,356.8 L316.0,356.7 L318.0,356.7 L320.0,356.6 L322.0,356.6 L324.0,356.7 L326.0,356.8 L328.0,356.9 L330.0,357.0 L332.0,357.2 L334.0,357.5 L336.0,357.7 L338.0,358.0 L340.0,358.3 L342.0,358.7 L344.0,359.1 L346.0,359.5 L348.0,359.9 L350.0,360.4 L352.0,360.9 L354.0,361.4 L356.0,361.9 L358.0,362.5 L360.0,363.1 L362.0,363.7 L364.0,364.3 L366.0,364.9 L368.0,365.6 L370.0,366.3 L372.0,366.9 L374.0,367.6 L376.0,368.4 L378.0,369.1 L380.0,369.8 L382.0,370.6 L384.0,371.4 L386.0,372.1 L388.0,372.9 L390.0,373.8 L392.0,374.6 L394.0,375.4 L396.0,376.3 L398.0,377.2 L400.0,378.0 L402.0,378.9 L404.0,379.8 L406.0,380.7 L408.0,381.7 L410.0,382.6 L412.0,383.6 L414.0,384.5 L416.0,385.5 L418.0,386.5 L420.0,387.5 L422.0,388.5 L424.0,389.5 L426.0,390.5 L428.0,391.6 L430.0,392.6 L432.0,393.7 L434.0,394.7 L436.0,395.8 L438.0,396.9 L440.0,398.0 L442.0,399.1 L444.0,400.2 L446.0,401.3 L448.0,402.4 L450.0,403.6 L452.0,404.7 L454.0,405.9 L456.0,407.0 L458.0,408.2 L460.0,409.4 L462.0,410.6 L464.0,411.7 L466.0,412.9 L468.0,414.1 L470.0,415.3 L472.0,416.6 L474.0,417.8 L476.0,419.0 L478.0,420.2 L480.0,421.5 L482.0,422.7 L484.0,424.0 L486.0,425.2 L488.0,426.5 L490.0,427.7 L492.0,429.0 L494.0,430.3 L496.0,431.5 L498.0,432.8 L500.0,434.1 L502.0,435.4 L504.0,436.7 L506.0,438.0 L508.0,439.3 L510.0,440.6 L512.0,441.9 L514.0,443.2 L516.0,444.5 L518.0,445.8 L520.0,447.1 L522.0,448.4 L524.0,449.7 L526.0,451.0 L528.0,452.3 L530.0,453.7 L532.0,455.0 L534.0,456.3 L536.0,457.6 L538.0,458.9 L540.0,460.3 L542.0,461.6 L544.0,462.9 L546.0,464.2 L548.0,465.6 L550.0,466.9 L552.0,468.2 L554.0,469.6 L556.0,470.9 L558.0,472.2 L560.0,473.6 L562.0,474.9 L564.0,476.2 L566.0,477.6 L568.0,478.9 L570.0,480.2 L572.0,481.6 L574.0,482.9 L576.0,484.2 L578.0,485.6 L580.0,486.9 L582.0,488.3 L584.0,489.6 L586.0,490.9 L588.0,492.3 L590.0,493.6 L592.0,494.9 L594.0,496.2 L596.0,497.6 L598.0,498.9 L600.0,500.2 L602.0,501.6 L604.0,502.9 L606.0,504.2 L608.0,505.5 L610.0,506.9 L612.0,508.2 L614.0,509.5 L616.0,510.8 L618.0,512.1 L620.0,513.4 L622.0,514.8 L624.0,516.1 L626.0,517.4 L628.0,518.7 L630.0,520.0 L632.0,521.3 L634.0,522.6 L636.0,523.9 L638.0,525.2 L640.0,526.5 L642.0,527.8 L644.0,529.0 L646.0,530.3 L648.0,531.6 L650.0,532.9 L652.0,534.2 L654.0,535.4 L656.0,536.7 L658.0,538.0 L660.0,539.2 L662.0,540.5 L664.0,541.7 L666.0,543.0 L668.0,544.2 L670.0,545.5 L672.0,546.7 L674.0,548.0 L676.0,549.2 L678.0,550.4 L680.0,551.7 L682.0,552.9 L684.0,554.1 L686.0,555.3 L688.0,556.5 L690.0,557.7 L692.0,558.9 L694.0,560.1 L696.0,561.3 L698.0,562.5 L700.0,563.7 L702.0,564.8 L704.0,566.0 L706.0,567.2 L708.0,568.3 L710.0,569.5 L712.0,570.6 L713.5,571.5 L713.5,602.7 L712.0,601.8 L710.0,600.7 L708.0,599.6 L706.0,598.5 L704.0,597.4 L702.0,596.3 L700.0,595.2 L698.0,594.1 L696.0,592.9 L694.0,591.8 L692.0,590.6 L690.0,589.5 L688.0,588.3 L686.0,587.2 L684.0,586.0 L682.0,584.8 L680.0,583.7 L678.0,582.5 L676.0,581.3 L674.0,580.1 L672.0,578.9 L670.0,577.7 L668.0,576.5 L666.0,575.3 L664.0,574.1 L662.0,572.9 L660.0,571.7 L658.0,570.4 L656.0,569.2 L654.0,568.0 L652.0,566.7 L650.0,565.5 L648.0,564.2 L646.0,563.0 L644.0,561.7 L642.0,560.5 L640.0,559.2 L638.0,558.0 L636.0,556.7 L634.0,555.4 L632.0,554.2 L630.0,552.9 L628.0,551.6 L626.0,550.3 L624.0,549.0 L622.0,547.7 L620.0,546.5 L618.0,545.2 L616.0,543.9 L614.0,542.6 L612.0,541.3 L610.0,540.0 L608.0,538.6 L606.0,537.3 L604.0,536.0 L602.0,534.7 L600.0,533.4 L598.0,532.1 L596.0,530.8 L594.0,529.4 L592.0,528.1 L590.0,526.8 L588.0,525.4 L586.0,524.1 L584.0,522.8 L582.0,521.5 L580.0,520.1 L578.0,518.8 L576.0,517.4 L574.0,516.1 L572.0,514.8 L570.0,513.4 L568.0,512.1 L566.0,510.7 L564.0,509.4 L562.0,508.0 L560.0,506.7 L558.0,505.3 L556.0,504.0 L554.0,502.6 L552.0,501.3 L550.0,499.9 L548.0,498.6 L546.0,497.2 L544.0,495.9 L542.0,494.5 L540.0,493.2 L538.0,491.8 L536.0,490.5 L534.0,489.1 L532.0,487.8 L530.0,486.4 L528.0,485.1 L526.0,483.7 L524.0,482.4 L522.0,481.0 L520.0,479.7 L518.0,478.3 L516.0,477.0 L514.0,475.6 L512.0,474.3 L510.0,472.9 L508.0,471.6 L506.0,470.2 L504.0,468.9 L502.0,467.5 L500.0,466.2 L498.0,464.8 L496.0,463.5 L494.0,462.2 L492.0,460.8 L490.0,459.5 L488.0,458.2 L486.0,456.8 L484.0,455.5 L482.0,454.2 L480.0,452.8 L478.0,451.5 L476.0,450.2 L474.0,448.9 L472.0,447.6 L470.0,446.2 L468.0,444.9 L466.0,443.6 L464.0,442.3 L462.0,441.0 L460.0,439.7 L458.0,438.5 L456.0,437.2 L454.0,435.9 L452.0,434.7 L450.0,433.4 L448.0,432.2 L446.0,430.9 L444.0,429.7 L442.0,428.5 L440.0,427.3 L438.0,426.1 L436.0,424.9 L434.0,423.7 L432.0,422.5 L430.0,421.3 L428.0,420.2 L426.0,419.1 L424.0,417.9 L422.0,416.8 L420.0,415.7 L418.0,414.7 L416.0,413.6 L414.0,412.5 L412.0,411.5 L410.0,410.5 L408.0,409.4 L406.0,408.5 L404.0,407.5 L402.0,406.5 L400.0,405.6 L398.0,404.6 L396.0,403.7 L394.0,402.9 L392.0,402.0 L390.0,401.1 L388.0,400.3 L386.0,399.5 L384.0,398.7 L382.0,398.0 L380.0,397.2 L378.0,396.5 L376.0,395.8 L374.0,395.2 L372.0,394.5 L370.0,393.9 L368.0,393.3 L366.0,392.8 L364.0,392.2 L362.0,391.7 L360.0,391.3 L358.0,390.8 L356.0,390.4 L354.0,390.0 L352.0,389.7 L350.0,389.3 L348.0,389.0 L346.0,388.8 L344.0,388.6 L342.0,388.4 L340.0,388.2 L338.0,388.1 L336.0,388.0 L334.0,387.9 L332.0,387.9 L330.0,387.9 L328.0,388.0 L326.0,388.1 L324.0,388.2 L322.0,388.4 L320.0,388.6 L318.0,388.9 L316.0,389.2 L314.0,389.5 L312.0,389.9 L310.0,390.3 L308.0,390.8 L306.0,391.3 L304.0,391.9 L302.0,392.5 L300.0,393.2 L298.0,393.9 L296.0,394.6 L294.0,395.5 L292.0,396.3 L290.0,397.2 L288.0,398.2 L286.0,399.2 L284.0,400.2 L282.0,401.4 L280.0,402.5 L278.0,403.7 L276.0,405.0 L274.0,406.4 L272.0,407.8 L270.0,409.3 L268.0,410.9 L266.0,412.5 L264.0,414.2 L262.0,416.0 L260.0,417.9 L258.0,419.9 L256.0,422.0 L254.0,424.2 L252.0,426.5 L250.0,428.9 L248.0,431.5 L246.0,434.1 L244.0,436.9 L242.0,439.7 L240.0,442.6 L238.0,445.6 L236.0,448.7 L234.0,451.8 L232.0,455.0 L230.0,458.2 L228.0,461.4 L226.0,464.7 L224.0,467.9 L222.0,471.2 L220.0,474.5 L218.0,477.9 L216.0,481.3 L214.0,484.7 L212.0,488.3 L210.0,492.0 L208.0,495.7 L206.0,499.6 L204.0,503.7 L202.0,507.8 L200.0,512.1 L198.0,516.5 L196.0,521.0 L194.0,525.7 L192.0,530.5 L190.0,535.3 L188.0,540.2 L186.0,545.2 L184.0,550.2 L182.0,555.3 L180.0,560.4 L178.0,565.5 L176.0,570.6 L174.0,575.7 L172.0,580.7 L170.0,585.6 L168.0,590.4 L166.0,594.9 L164.0,599.3 L162.0,603.4 L160.0,607.1 Z" fill="rgb(0,62,240)" fill-opacity="0.5"/><rect x="698.6" y="563.2" width="1.3" height="31.5" fill="rgb(0,62,240)" fill-opacity="0.5"/>

<rect x="264.7" y="286" width="27.6" height="7.6" fill="rgb(250,168,8)"/>
<rect x="312" y="371" width="31" height="7.5" fill="rgb(0,62,240)"/>
<rect x="306.6" y="475" width="38.5" height="7.3" fill="rgb(10,130,210)"/>
<rect x="178.3" y="531" width="6" height="7.7" fill="rgb(0,168,0)"/>
<rect x="201.4" y="616.4" width="8" height="7.2" fill="rgb(140,45,235)"/>

<g stroke="#000" stroke-width="2.2" fill="none">
<path d="M153,262 V974"/>
<path d="M152,973 H713.5"/>
<path d="M134,969.3 H153"/>
<path d="M134,780.6 H153"/>
<path d="M134,591.9 H153"/>
<path d="M134,403.1 H153"/>
<path d="M156.7,973 V992"/>
<path d="M295.6,973 V992"/>
<path d="M434.5,973 V992"/>
<path d="M573.3,973 V992"/>
<path d="M712.3,973 V992"/>
</g>
<g font-family='"Liberation Serif", serif' fill="#000" stroke="#000" stroke-width="0.35">
<g transform="translate(160,23.8) scale(1,1.025)"><text x="0" y="0" font-size="30.2">Northern Hemisphere and Tropical Proxies</text></g>
<g transform="translate(232.5,70.5) scale(1,1.03)"><text x="0" y="0" font-size="30">NGRIP - δ<tspan dy="-18.5" font-size="21">18</tspan><tspan dy="18.5">O</tspan></text></g>
<g transform="translate(232.5,103) scale(1,1.03)"><text x="0" y="0" font-size="30">WD - CH<tspan dy="6.5" font-size="22">4</tspan></text></g>
<g transform="translate(160,143.9) scale(1,1.025)"><text x="0" y="0" font-size="30.2">Southern Hemisphere Proxies</text></g>
<g transform="translate(228,188.6) scale(1,1.03)"><text x="0" y="0" font-size="30">WD - δ<tspan dy="-18.5" font-size="21">18</tspan><tspan dy="18.5">O</tspan></text></g>
<g transform="translate(234.3,223.4) scale(1,1.03)"><text x="0" y="0" font-size="29.4">WD - log(Ca)</text></g>
<g transform="translate(234.3,256.4) scale(1,1.03)"><text x="0" y="0" font-size="29.4">WD - log(Na)</text></g>
<g transform="translate(126.5,416) scale(1,1.045)"><text x="0" y="0" font-size="36.2" text-anchor="end">0.6</text></g>
<g transform="translate(126,604.5) scale(1,1.045)"><text x="0" y="0" font-size="36.2" text-anchor="end">0.4</text></g>
<g transform="translate(126,793) scale(1,1.045)"><text x="0" y="0" font-size="36.2" text-anchor="end">0.2</text></g>
<g transform="translate(126.5,982.3) scale(1,1.045)"><text x="0" y="0" font-size="36.2" text-anchor="end">0.0</text></g>
<g transform="translate(157,1033.8) scale(1,1.045)"><text x="0" y="0" font-size="36.2" text-anchor="middle">0</text></g>
<g transform="translate(296.5,1033.8) scale(1,1.045)"><text x="0" y="0" font-size="36.2" text-anchor="middle">500</text></g>
<g transform="translate(435.5,1033.8) scale(1,1.045)"><text x="0" y="0" font-size="36.2" text-anchor="middle">1000</text></g>
<g transform="translate(575,1033.8) scale(1,1.045)"><text x="0" y="0" font-size="36.2" text-anchor="middle">1500</text></g>
<g transform="translate(712,1033.8) scale(1,1.045)"><text x="0" y="0" font-size="36.2" text-anchor="middle">2000</text></g>
<g transform="translate(184.5,1078.8) scale(1,1.03)"><text x="0" y="0" font-size="35">Timescale Response of CO<tspan dy="7" font-size="27">2</tspan><tspan dy="-7"> (years)</tspan></text></g>
<g transform="translate(227.5,862.6) scale(1,1.0)"><text x="0" y="0" font-size="30">CO<tspan dy="6.5" font-size="24">2</tspan><tspan dy="-6.5"> lags</tspan></text></g>
<g transform="translate(228,901.8) scale(1,1.0)"><text x="0" y="0" font-size="30">proxy</text></g>
<g transform="translate(40.3,634.5) rotate(-90) scale(1.055,1)"><text x="0" y="0" font-size="36">R<tspan dx="-1.5" dy="-22" font-size="26">2</tspan></text></g>
</g>
<g fill="none" stroke-width="1.2">
<rect x="179" y="52" width="28" height="20" fill="rgb(200,154,245)" stroke="none"/>
<rect x="179" y="86" width="28" height="19.5" fill="rgb(128,228,122)" stroke="none"/>
<rect x="179" y="172" width="28" height="19" fill="rgb(127,147,244)" stroke="none"/>
<rect x="179" y="206" width="28" height="18.5" fill="rgb(251,208,126)" stroke="none"/>
<rect x="179" y="240" width="28" height="18.7" fill="rgb(16,168,245)" stroke="none"/>
</g>
</svg>
</body></html>
